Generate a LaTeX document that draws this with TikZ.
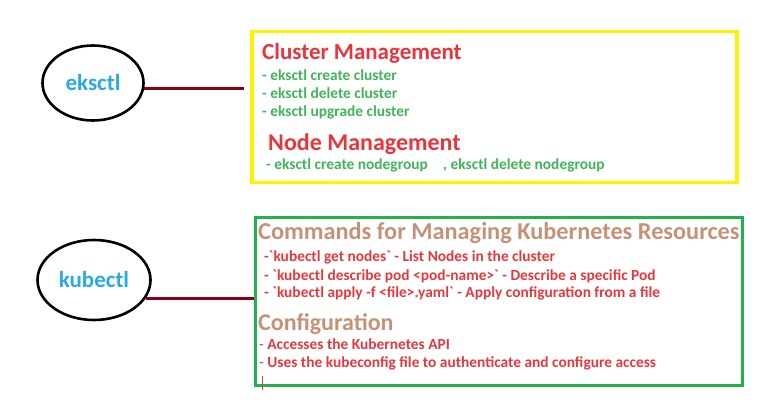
\documentclass[tikz,border=0pt]{standalone}
\usepackage{fontspec}
\setmainfont{Carlito}
\usetikzlibrary{shapes.geometric}

\definecolor{toolblue}{HTML}{29ABE2}
\definecolor{linkred}{HTML}{880015}
\definecolor{boxyellow}{HTML}{FFF200}
\definecolor{boxgreen}{HTML}{22B14C}
\definecolor{headred}{HTML}{E8343C}
\definecolor{itemgreen}{HTML}{3FB55A}
\definecolor{headtan}{HTML}{C39277}
\definecolor{itemred}{HTML}{E5383D}

\tikzset{
  tool/.style={ellipse, draw=black, line width=2.6pt, inner sep=0pt,
    text=toolblue, font=\bfseries\fontsize{23}{26}\selectfont},
  link/.style={draw=linkred, line width=2.6pt},
  headline/.style={anchor=base west, inner sep=0pt, font=\bfseries\fontsize{24}{28}\selectfont},
  item/.style={anchor=base west, inner sep=0pt, font=\bfseries\fontsize{15.4}{18}\selectfont},
}

\begin{document}
\begin{tikzpicture}[x=1pt, y=-1pt]
\useasboundingbox (0,0) rectangle (772,401);
\begin{scope}
    % the two tools
    \node[tool, minimum width=101, minimum height=75] (eks) at (93,83) {eksctl};
    \node[tool, minimum width=113, minimum height=80] (kub) at (94,280) {kubectl};

    % the two boxes
    \node[draw=boxyellow, line width=3.5pt, anchor=north west,
      minimum width=485, minimum height=151] (ekbox) at (250,30) {};
    \node[draw=boxgreen, line width=3pt, anchor=north west,
      minimum width=487, minimum height=168] (kubox) at (254,216) {};

    \path [link, shorten >=6pt] (eks.-6) edge (eks.-6 -| ekbox.west);
    \path [link] (kub.-20) edge (kub.-20 -| kubox.west);

    % eksctl box
    \node[headline, text=headred, font=\bfseries\fontsize{23}{26}\selectfont] (clm) at (262,60) {Cluster Management};
    \node[item, text=itemgreen] (ec1) at (262,80.5) {- eksctl create cluster};
    \node[item, text=itemgreen] (ec2) at (262,99) {- eksctl delete cluster};
    \node[item, text=itemgreen] (ec3) at (262,116.5) {- eksctl upgrade cluster};
    \node[headline, text=headred] (ndm) at (268,150.5) {Node Management};
    \node[item, text=itemgreen] (en1) at (266,170) {- eksctl create nodegroup};
    \node[item, text=itemgreen] (en2) at (443,170) {, eksctl delete nodegroup};

    % kubectl box
    \node[headline, text=headtan, font=\bfseries\fontsize{24.3}{28}\selectfont] (cmd) at (258,240) {Commands for Managing Kubernetes Resources};
    \node[item, text=itemred] (kc1) at (264,261.5) {-\textasciigrave kubectl get nodes\textasciigrave{} - List Nodes in the cluster};
    \node[item, text=itemred] (kc2) at (264,280) {- \textasciigrave kubectl describe pod <pod-name>\textasciigrave{} - Describe a specific Pod};
    \node[item, text=itemred] (kc3) at (264,297.5) {- \textasciigrave kubectl apply -f <file>.yaml\textasciigrave{} - Apply configuration from a file};
    \node[headline, text=headtan] (cfg) at (258,330) {Configuration};
    \node[item, text=itemred] (cf1) at (259,349) {{\mdseries-} Accesses the Kubernetes API};
    \node[item, text=itemred] (cf2) at (259,367.5) {{\mdseries-} Uses the kubeconfig file to authenticate and configure access};
    \path [draw=itemred, line width=0.6pt] (262,376) edge (262,390);
\end{scope}
\end{tikzpicture}
\end{document}
